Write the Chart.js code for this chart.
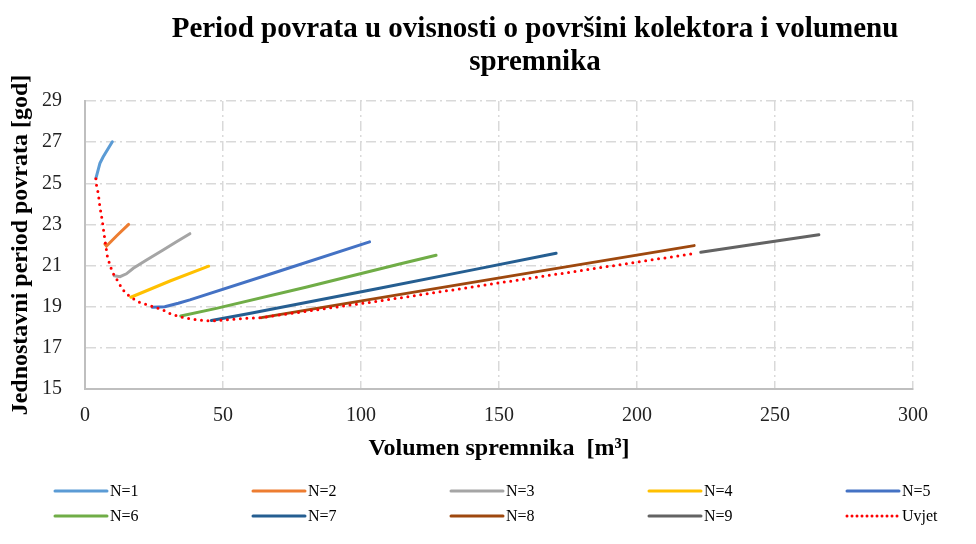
<!DOCTYPE html>
<html>
<head>
<meta charset="utf-8">
<title>Period povrata</title>
<script src="https://cdn.jsdelivr.net/npm/chart.js@4.4.1/dist/chart.umd.min.js"></script>
<style>
  html, body { margin: 0; padding: 0; background: #fff; }
  #wrap { position: relative; width: 976px; height: 544px; }
</style>
</head>
<body>
<div id="wrap"><canvas id="paybackChart"></canvas></div>
<script>
// Chart data
const titleLines = ['Period povrata u ovisnosti o površini kolektora i volumenu', 'spremnika'];
const xTitle = 'Volumen spremnika  [m³]';
const yTitle = 'Jednostavni period povrata [god]';

const xTicks = [0, 50, 100, 150, 200, 250, 300];
const yTicks = [15, 17, 19, 21, 23, 25, 27, 29];

const seriesNames = ['N=1', 'N=2', 'N=3', 'N=4', 'N=5', 'N=6', 'N=7', 'N=8', 'N=9', 'Uvjet'];
const seriesColors = ['#5B9BD5', '#ED7D31', '#A5A5A5', '#FFC000', '#4472C4', '#70AD47', '#255E91', '#9E480E', '#636363', '#FF0000'];

const n1X = [3.95, 5.4, 6.6, 9.9];
const n1Y = [25.24, 25.97, 26.29, 27.02];
const n2X = [7.2, 7.8, 11.5, 15.8];
const n2Y = [22.05, 21.95, 22.45, 23.0];
const n3X = [10.6, 12.7, 15.0, 17.5, 22.0, 28.3, 33.0, 38.0];
const n3Y = [20.5, 20.46, 20.6, 20.87, 21.25, 21.76, 22.15, 22.55];
const n4X = [16.6, 30.8, 44.8];
const n4Y = [19.46, 20.25, 20.97];
const n5X = [24.4, 28.9, 33.8, 38.0, 70.0, 103.1];
const n5Y = [18.97, 19.0, 19.17, 19.33, 20.71, 22.15];
const n6X = [34.7, 47.6, 80.0, 114.0, 127.2];
const n6Y = [18.55, 18.92, 19.95, 21.08, 21.5];
const n7X = [45.8, 60.0, 106.7, 140.0, 170.7];
const n7Y = [18.33, 18.68, 19.9, 20.78, 21.6];
const n8X = [63.9, 106.7, 160.0, 220.7];
const n8Y = [18.47, 19.43, 20.62, 21.97];
const n9X = [223.1, 245.0, 265.9];
const n9Y = [21.65, 22.08, 22.5];
const uvjetX = [3.95, 4.2, 4.8, 5.4, 6.27, 6.87, 7.5, 8.1, 9.2, 10.6, 12.05, 13.3, 14.8, 16.6, 19.3, 21.7, 24.7, 28.3, 31.4, 34.4, 38.6, 43.4, 47.0, 52.5, 58.0, 63.9, 106.7, 160.0, 221.3];
const uvjetY = [25.22, 24.87, 24.51, 23.86, 23.18, 22.57, 22.0, 21.46, 20.95, 20.5, 20.22, 19.9, 19.65, 19.46, 19.24, 19.13, 19.0, 18.84, 18.63, 18.51, 18.4, 18.32, 18.32, 18.38, 18.43, 18.47, 19.28, 20.36, 21.6];

const seriesX = [n1X, n2X, n3X, n4X, n5X, n6X, n7X, n8X, n9X, uvjetX];
const seriesY = [n1Y, n2Y, n3Y, n4Y, n5Y, n6Y, n7Y, n8Y, n9Y, uvjetY];

const serif = '"Times New Roman", "Liberation Serif", serif';

const datasets = seriesNames.map((name, i) => {
  const isUvjet = name === 'Uvjet';
  return {
    label: name,
    data: seriesX[i].map((x, k) => ({ x: x, y: seriesY[i][k] })),
    showLine: true,
    borderColor: seriesColors[i],
    backgroundColor: seriesColors[i],
    borderWidth: 3,
    borderDash: isUvjet ? [0, 6.5] : [],
    borderCapStyle: 'round',
    pointRadius: 0,
    pointHoverRadius: 0,
    order: isUvjet ? 0 : 1
  };
});

// title drawn over the plot centre like the reference
const titlePlugin = {
  id: 'topTitle',
  afterDraw(chart) {
    const ctx = chart.ctx;
    ctx.save();
    ctx.fillStyle = '#000';
    ctx.font = 'bold 29px ' + serif;
    ctx.textAlign = 'center';
    ctx.textBaseline = 'middle';
    titleLines.forEach((t, i) => ctx.fillText(t, 535, 30 + i * 33));
    ctx.restore();
  }
};

// legend: 5 columns x 2 rows
const gridLegend = {
  id: 'gridLegend',
  afterDraw(chart) {
    const ctx = chart.ctx;
    ctx.save();
    ctx.font = '16px ' + serif;
    ctx.textBaseline = 'middle';
    ctx.textAlign = 'left';
    chart.data.datasets.forEach((ds, i) => {
      const x = 55 + (i % 5) * 198;
      const y = 491 + Math.floor(i / 5) * 25;
      ctx.beginPath();
      ctx.strokeStyle = ds.borderColor;
      ctx.lineWidth = 3;
      ctx.lineCap = 'round';
      ctx.setLineDash(ds.borderDash.length ? [0, 5] : []);
      ctx.moveTo(x, y);
      ctx.lineTo(x + 52, y);
      ctx.stroke();
      ctx.setLineDash([]);
      ctx.fillStyle = '#000';
      ctx.fillText(ds.label, x + 55, y + 1);
    });
    ctx.restore();
  }
};

new Chart(document.getElementById('paybackChart'), {
  type: 'scatter',
  data: { datasets: datasets },
  options: {
    responsive: true,
    maintainAspectRatio: false,
    animation: false,
    layout: { padding: { top: 101, right: 63, bottom: 75, left: 0 } },
    plugins: {
      legend: { display: false },
      title: { display: false },
      tooltip: { enabled: false }
    },
    scales: {
      x: {
        type: 'linear',
        min: 0,
        max: 300,
        afterBuildTicks: s => { s.ticks = xTicks.map(v => ({ value: v })); },
        afterFit: s => { s.height = 80; },
        grid: { color: '#d9d9d9', lineWidth: 1.5, drawTicks: false },
        border: { display: true, color: '#bfbfbf', width: 2, dash: [10, 4, 2, 4] },
        ticks: { color: '#222', padding: 15, font: { family: serif, size: 20 }, maxRotation: 0 },
        title: { display: true, text: xTitle, color: '#000', font: { family: serif, size: 24, weight: 'bold' }, padding: { top: 0, bottom: 6 } }
      },
      y: {
        type: 'linear',
        min: 15,
        max: 29,
        afterBuildTicks: s => { s.ticks = yTicks.map(v => ({ value: v })); },
        afterFit: s => { s.width = 85; },
        grid: { color: '#d9d9d9', lineWidth: 1.5, drawTicks: false },
        border: { display: true, color: '#bfbfbf', width: 2, dash: [10, 4, 2, 4] },
        ticks: { color: '#222', padding: 23, font: { family: serif, size: 20 } },
        title: { display: true, text: yTitle, color: '#000', font: { family: serif, size: 24, weight: 'bold' }, padding: { top: 6, bottom: 0 } }
      }
    }
  },
  plugins: [titlePlugin, gridLegend]
});
</script>
</body>
</html>
